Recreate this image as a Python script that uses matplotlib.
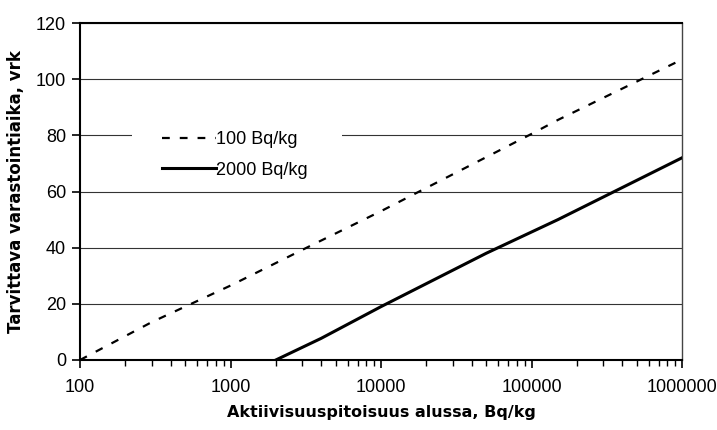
import matplotlib
matplotlib.use("Agg")
import matplotlib.pyplot as plt
from matplotlib.patches import Rectangle
from matplotlib.ticker import LogLocator, FixedLocator, NullFormatter, FixedFormatter

plt.rcParams['font.family'] = ['Liberation Sans', 'DejaVu Sans']

# aktiivisuus alussa (Bq/kg) ja tarvittava varastointiaika (vrk)
x_100 = [100, 300, 1000, 3500, 10000, 100000, 150000, 1000000]
y_100 = [0, 13.5, 26.5, 41, 53, 80.5, 85.5, 107]
x_2000 = [2000, 4000, 10000, 50000, 150000, 1000000]
y_2000 = [0, 7.7, 19, 38, 50, 72]

xticks = [100, 1000, 10000, 100000, 1000000]
xlabels = ['100', '1000', '10000', '100000', '1000000']
yticks = [0, 20, 40, 60, 80, 100, 120]

fig = plt.figure(figsize=(7.17, 4.30), dpi=100)
ax = fig.add_axes([80 / 717, 70 / 430, 602 / 717, 337 / 430])

ax.plot(x_100, y_100, color='black', lw=1.6, ls=(0, (3.5, 4.5)), label='100 Bq/kg', zorder=3)
ax.plot(x_2000, y_2000, color='black', lw=2.2, label='2000 Bq/kg', zorder=3)

ax.set_xscale('log')
ax.set_xlim(100, 1000000)
ax.set_ylim(0, 120)
ax.xaxis.set_major_locator(FixedLocator(xticks))
ax.xaxis.set_major_formatter(FixedFormatter(xlabels))
ax.xaxis.set_minor_locator(LogLocator(base=10, subs=range(2, 10)))
ax.xaxis.set_minor_formatter(NullFormatter())
ax.set_yticks(yticks)
ax.yaxis.grid(True, color='#333333', lw=0.8)
ax.set_axisbelow(True)

ax.tick_params(axis='both', which='major', direction='out', length=6, width=1.2,
               labelsize=13, pad=4)
ax.tick_params(axis='x', which='minor', direction='out', length=4.5, width=1.0)
ax.tick_params(axis='x', which='major', pad=8)

for s in ['left', 'bottom', 'top']:
    ax.spines[s].set_linewidth(1.5)
ax.spines['right'].set_color('#444444')
ax.spines['right'].set_linewidth(1.0)

ax.set_xlabel('Aktiivisuuspitoisuus alussa, Bq/kg', fontsize=11.5, fontweight='bold',
              family='DejaVu Sans', labelpad=6)
ax.set_ylabel('Tarvittava varastointiaika, vrk', fontsize=12, fontweight='bold',
              family='DejaVu Sans', labelpad=8)

# valkoinen tausta selitteelle
ax.add_patch(Rectangle((52 / 602, 172 / 337), 210 / 602, 62 / 337, transform=ax.transAxes,
                       facecolor='white', edgecolor='none', zorder=1))

leg = ax.legend(loc='upper left', bbox_to_anchor=(82 / 602, 229 / 337), frameon=False,
                fontsize=13, handlelength=3.0, handletextpad=0.0,
                borderpad=0, labelspacing=0.75, borderaxespad=0)

fig.savefig('out.png', dpi=100)
